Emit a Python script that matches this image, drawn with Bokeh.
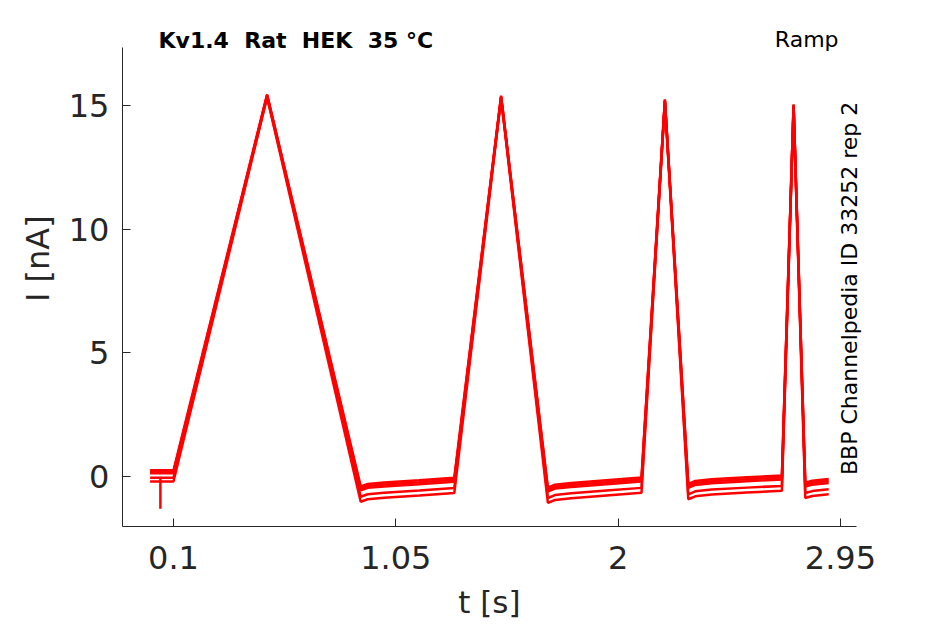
import math
from bokeh.plotting import figure
from bokeh.models import Range1d, FixedTicker, Label
from bokeh.embed import file_html
from bokeh.resources import INLINE

# ---- data ----
t_nodes = [0.0, 0.1, 0.5, 0.9, 0.93, 1.0, 1.15, 1.3,
           1.5, 1.7, 1.73, 1.8, 1.95, 2.1,
           2.2, 2.3, 2.33, 2.4, 2.55, 2.7,
           2.75, 2.8, 2.83, 2.9]
i_top = [0.25, 0.25, 15.45, -0.40, -0.30, -0.24, -0.15, -0.05,
         15.40, -0.45, -0.33, -0.26, -0.15, -0.04,
         15.25, -0.30, -0.18, -0.11, -0.03, 0.04,
         15.05, -0.25, -0.17, -0.10]
node_kind = ["b", "b", "p", "l", "l", "l", "l", "l",
             "p", "l", "l", "l", "l", "l",
             "p", "l", "l", "l", "l", "l",
             "p", "l", "l", "l"]
# per-trace offsets (5 sweeps) relative to the top sweep
offset_base = [0.0, -0.06, -0.12, -0.30, -0.45]
offset_low = [0.0, -0.08, -0.16, -0.42, -0.62]
offset_peak = [0.0, -0.04, -0.08, -0.05, -0.12]
# artefact spike in one sweep
spike_t = [0.044, 0.044]
spike_i = [-0.05, -1.30]

x_ticks = [0.1, 1.05, 2, 2.95]
x_tick_labels = ["0.1", "1.05", "2", "2.95"]
y_ticks = [0, 5, 10, 15]
x_lim = (-0.118, 3.018)
y_lim = (-2.02, 17.35)

title_text = "Kv1.4\u00a0 Rat\u00a0 HEK\u00a0 35 °C"
protocol_text = "Ramp"
id_text = "BBP Channelpedia ID 33252 rep 2"
x_label = "t [s]"
y_label = "I [nA]"

FONT = "DejaVu Sans"
AX = "#262626"

p = figure(width=940, height=622, output_backend="svg", toolbar_location=None,
           x_range=Range1d(-0.6393, 3.3778), y_range=Range1d(-5.904, 19.248),
           min_border_left=0, min_border_right=0, min_border_top=0,
           min_border_bottom=0)
p.outline_line_color = None
p.grid.visible = False
p.background_fill_color = "white"
p.border_fill_color = "white"

for k in range(len(offset_base)):
    ys = []
    for v, kind in zip(i_top, node_kind):
        if kind == "b":
            ys.append(v + offset_base[k])
        elif kind == "p":
            ys.append(v + offset_peak[k])
        else:
            ys.append(v + offset_low[k])
    p.line(t_nodes, ys, line_color="#ff0000", line_width=2.5)

p.line(spike_t, spike_i, line_color="#ff0000", line_width=2.5)

for ax in (p.xaxis[0], p.yaxis[0]):
    ax.axis_line_color = AX
    ax.axis_line_width = 1
    ax.major_tick_line_color = AX
    ax.major_tick_in = 8
    ax.major_tick_out = 0
    ax.minor_tick_line_color = None
    ax.major_label_text_font = FONT
    ax.major_label_text_font_size = "32px"
    ax.major_label_text_color = AX

p.xaxis.fixed_location = y_lim[0]
p.xaxis.bounds = x_lim
p.yaxis.fixed_location = x_lim[0]
p.yaxis.bounds = y_lim
p.xaxis.major_label_standoff = 20
p.yaxis.major_label_standoff = 13
p.xaxis.ticker = FixedTicker(ticks=x_ticks)
p.xaxis.major_label_overrides = {t: s for t, s in zip(x_ticks, x_tick_labels)}
p.yaxis.ticker = FixedTicker(ticks=y_ticks)

p.add_layout(Label(x=1.450, y=-5.08, text=x_label, text_font=FONT,
                   text_font_size="31px", text_color=AX,
                   text_align="center", text_baseline="alphabetic"))
p.add_layout(Label(x=-0.477, y=8.81, text=y_label, text_font=FONT,
                   text_font_size="32px", text_color=AX,
                   text_align="center", text_baseline="alphabetic",
                   angle=math.pi / 2))
p.add_layout(Label(x=0.036, y=17.63, text=title_text, text_font=FONT,
                   text_font_size="22px", text_font_style="bold",
                   text_color="black", text_align="left",
                   text_baseline="alphabetic"))
p.add_layout(Label(x=2.942, y=17.67, text=protocol_text, text_font=FONT,
                   text_font_size="22px", text_color="black",
                   text_align="right", text_baseline="alphabetic"))
p.add_layout(Label(x=2.989, y=0.06, text=id_text, text_font=FONT,
                   text_font_size="22px", text_color="black",
                   text_align="left", text_baseline="alphabetic",
                   angle=math.pi / 2))

open("out.html", "w").write(file_html(p, INLINE))
